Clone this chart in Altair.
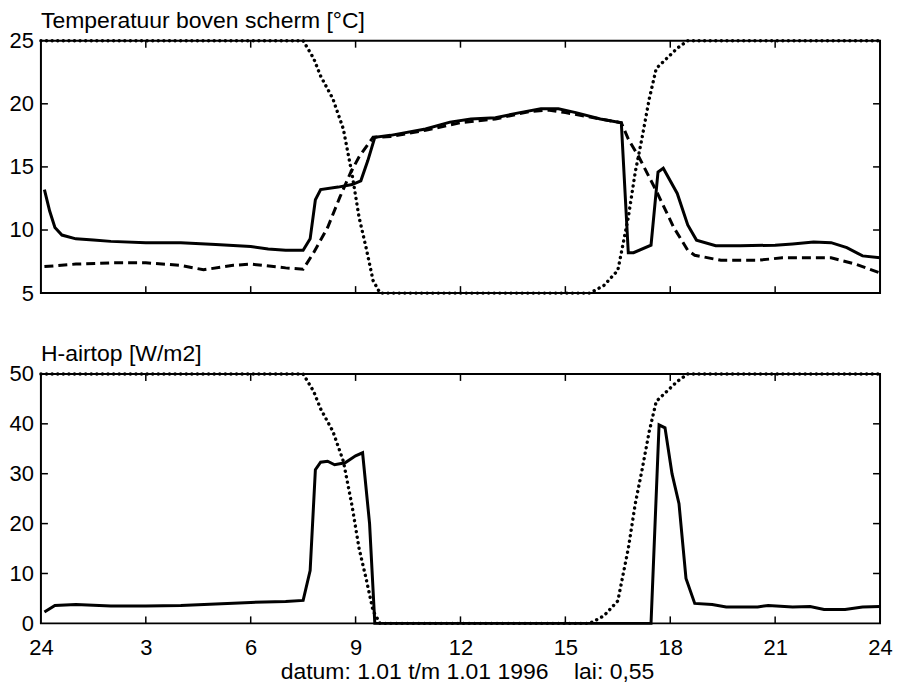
import altair as alt
import pandas as pd

# ---------------- data (hours of the day, 0..24) ----------------
x_ticks = [0, 3, 6, 9, 12, 15, 18, 21, 24]
x_inner_ticks = [3, 6, 9, 12, 15, 18, 21]

# Temperature above screen (solid)
top_solid_h = [0.1, 0.25, 0.4, 0.6, 1.0, 1.5, 2, 3, 4, 5, 6, 6.5, 7, 7.5, 7.7, 7.85, 8.0, 8.5, 8.9, 9.15,
               9.35, 9.55, 10, 11, 11.7, 12.3, 13.0, 13.7, 14.3, 14.8, 15.3, 16.0, 16.6, 16.8, 16.95, 17.45,
               17.65, 17.8, 18.2, 18.5, 18.75, 19.3, 20, 21, 21.5, 22.1, 22.6, 23.05, 23.5, 24]
top_solid_v = [13.2, 11.5, 10.2, 9.6, 9.3, 9.2, 9.1, 9.0, 9.0, 8.85, 8.7, 8.5, 8.4, 8.4, 9.3, 12.4, 13.2, 13.4,
               13.6, 13.9, 15.5, 17.35, 17.5, 18.0, 18.55, 18.8, 18.9, 19.3, 19.6, 19.6, 19.3, 18.8, 18.5, 8.2,
               8.2, 8.8, 14.6, 14.9, 12.9, 10.4, 9.2, 8.75, 8.75, 8.8, 8.9, 9.05, 9.0, 8.6, 7.95, 7.8]

# Second temperature (dashed)
top_dash_h = [0.1, 1, 2, 3, 4, 4.65, 5.5, 6, 7, 7.5, 7.8, 8.2, 8.55, 8.85, 9.1, 9.5, 10, 11, 12, 13, 14,
              14.5, 15, 16, 16.6, 16.8, 17.1, 17.6, 18.1, 18.5, 18.7, 19.45, 20.5, 21.2, 22.0, 22.6, 23.3, 24]
top_dash_v = [7.1, 7.3, 7.4, 7.4, 7.2, 6.85, 7.2, 7.3, 7.0, 6.9, 8.2, 10.2, 12.6, 14.5, 15.8, 17.35, 17.4,
              17.9, 18.5, 18.8, 19.4, 19.5, 19.3, 18.8, 18.5, 17.2, 15.8, 13.1, 10.2, 8.4, 8.0, 7.6, 7.6, 7.8,
              7.8, 7.8, 7.3, 6.6]

# Screen position (dotted), fraction closed 0..1
screen_h = [0, 7.5, 7.8, 8.0, 8.35, 8.65, 8.9, 9.1, 9.3, 9.5, 9.7, 15.7, 16.1, 16.5, 16.8, 17.0, 17.2,
            17.4, 17.6, 17.9, 18.2, 18.5, 24]
screen_f = [1, 1, 0.93, 0.86, 0.77, 0.65, 0.47, 0.3, 0.18, 0.05, 0, 0, 0.03, 0.09, 0.3, 0.48, 0.62,
            0.77, 0.89, 0.93, 0.97, 1, 1]

# H-airtop (solid)
bot_solid_h = [0.1, 0.4, 1, 2, 3, 4, 5, 6, 7, 7.5, 7.7, 7.85, 8.0, 8.2, 8.4, 8.7, 9.0, 9.2, 9.4, 9.55,
               17.45, 17.68, 17.85, 18.05, 18.25, 18.45, 18.7, 19.2, 19.6, 20.5, 20.8, 21.5, 22.0, 22.4,
               23.0, 23.5, 24]
bot_solid_v = [2.3, 3.6, 3.8, 3.5, 3.5, 3.6, 3.9, 4.2, 4.4, 4.6, 10.6, 30.8, 32.3, 32.5, 31.8, 32.2, 33.6,
               34.2, 20, 0, 0, 39.8, 39.2, 30, 24, 9, 4, 3.8, 3.3, 3.3, 3.6, 3.3, 3.4, 2.8, 2.8, 3.3, 3.4]

top_y_ticks = [5, 10, 15, 20, 25]
top_y_inner = [10, 15, 20]
bot_y_ticks = [0, 10, 20, 30, 40, 50]
bot_y_inner = [10, 20, 30, 40]

top_title = "Temperatuur boven scherm [°C]"
bot_title = "H-airtop [W/m2]"
x_title = "datum: 1.01 t/m 1.01 1996 \u00a0\u00a0\u00a0lai: 0,55"

# ---------------- styling ----------------
W = 841
H1 = 253
H2 = 250
FONT = "Liberation Sans"
FS = 22
TFS = 23
LW = 3
TICK = 7


def panel(title, ydom, yvals, yinner, H, layers, show_x):
    if show_x:
        xaxis = alt.Axis(values=x_ticks, labelExpr="datum.value == 0 ? '24' : datum.label",
                         ticks=False, domain=False, grid=False, labelFlush=False, labelOverlap=False,
                         labelFontSize=FS, labelFont=FONT, labelColor="black", labelPadding=14,
                         title=x_title, titleFontSize=TFS, titleFont=FONT, titleFontWeight="normal",
                         titleColor="black", titlePadding=2, titleX=427)
    else:
        xaxis = None
    yaxis = alt.Axis(values=yvals, ticks=False, domain=False, grid=False, labelFlush=False,
                     labelOverlap=False, labelFontSize=FS, labelFont=FONT, labelColor="black",
                     labelPadding=7.5, title=None)
    xenc = alt.X("h:Q", scale=alt.Scale(domain=[0, 24], nice=False, zero=False), axis=xaxis)
    yenc = alt.Y("v:Q", scale=alt.Scale(domain=ydom, nice=False, zero=False), axis=yaxis)

    charts = []
    for df, dash in layers:
        kw = dict(color="black", strokeWidth=LW)
        if dash == "dash":
            kw.update(strokeDash=[9, 5])
        elif dash == "dot":
            kw.update(strokeDash=[0.1, 5.5], strokeCap="round", strokeWidth=3.4)
        charts.append(alt.Chart(df).mark_line(**kw).encode(x=xenc, y=yenc))

    xt = pd.DataFrame({"h": x_inner_ticks})
    yt = pd.DataFrame({"v": yinner})
    charts.append(alt.Chart(xt).mark_rule(color="black", strokeWidth=1.5).encode(
        x=xenc, y=alt.value(0), y2=alt.value(TICK)))
    charts.append(alt.Chart(xt).mark_rule(color="black", strokeWidth=1.5).encode(
        x=xenc, y=alt.value(H), y2=alt.value(H - TICK)))
    charts.append(alt.Chart(yt).mark_rule(color="black", strokeWidth=1.5).encode(
        y=yenc, x=alt.value(0), x2=alt.value(TICK)))
    charts.append(alt.Chart(yt).mark_rule(color="black", strokeWidth=1.5).encode(
        y=yenc, x=alt.value(W), x2=alt.value(W - TICK)))

    return alt.layer(*charts).properties(
        width=W, height=H,
        title=alt.TitleParams(text=title, anchor="start", frame="group", fontSize=TFS, font=FONT,
                              fontWeight="normal", color="black", offset=-26, baseline="bottom"))


screen_df = pd.DataFrame({"h": screen_h, "f": screen_f})

top_layers = [
    (pd.DataFrame({"h": top_solid_h, "v": top_solid_v}), "solid"),
    (pd.DataFrame({"h": top_dash_h, "v": top_dash_v}), "dash"),
    (pd.DataFrame({"h": screen_df["h"], "v": 5 + 20 * screen_df["f"]}), "dot"),
]
bot_layers = [
    (pd.DataFrame({"h": bot_solid_h, "v": bot_solid_v}), "solid"),
    (pd.DataFrame({"h": screen_df["h"], "v": 50 * screen_df["f"]}), "dot"),
]

top = panel(top_title, [5, 25], top_y_ticks, top_y_inner, H1, top_layers, False)
bot = panel(bot_title, [0, 50], bot_y_ticks, bot_y_inner, H2, bot_layers, True)

chart = alt.vconcat(top, bot, spacing=37).properties(
    padding={"left": 0, "top": 0, "right": 0, "bottom": 0}
).configure_view(stroke="black", strokeWidth=2)

chart.save("out.html", embed_options={"renderer": "svg", "actions": False})
